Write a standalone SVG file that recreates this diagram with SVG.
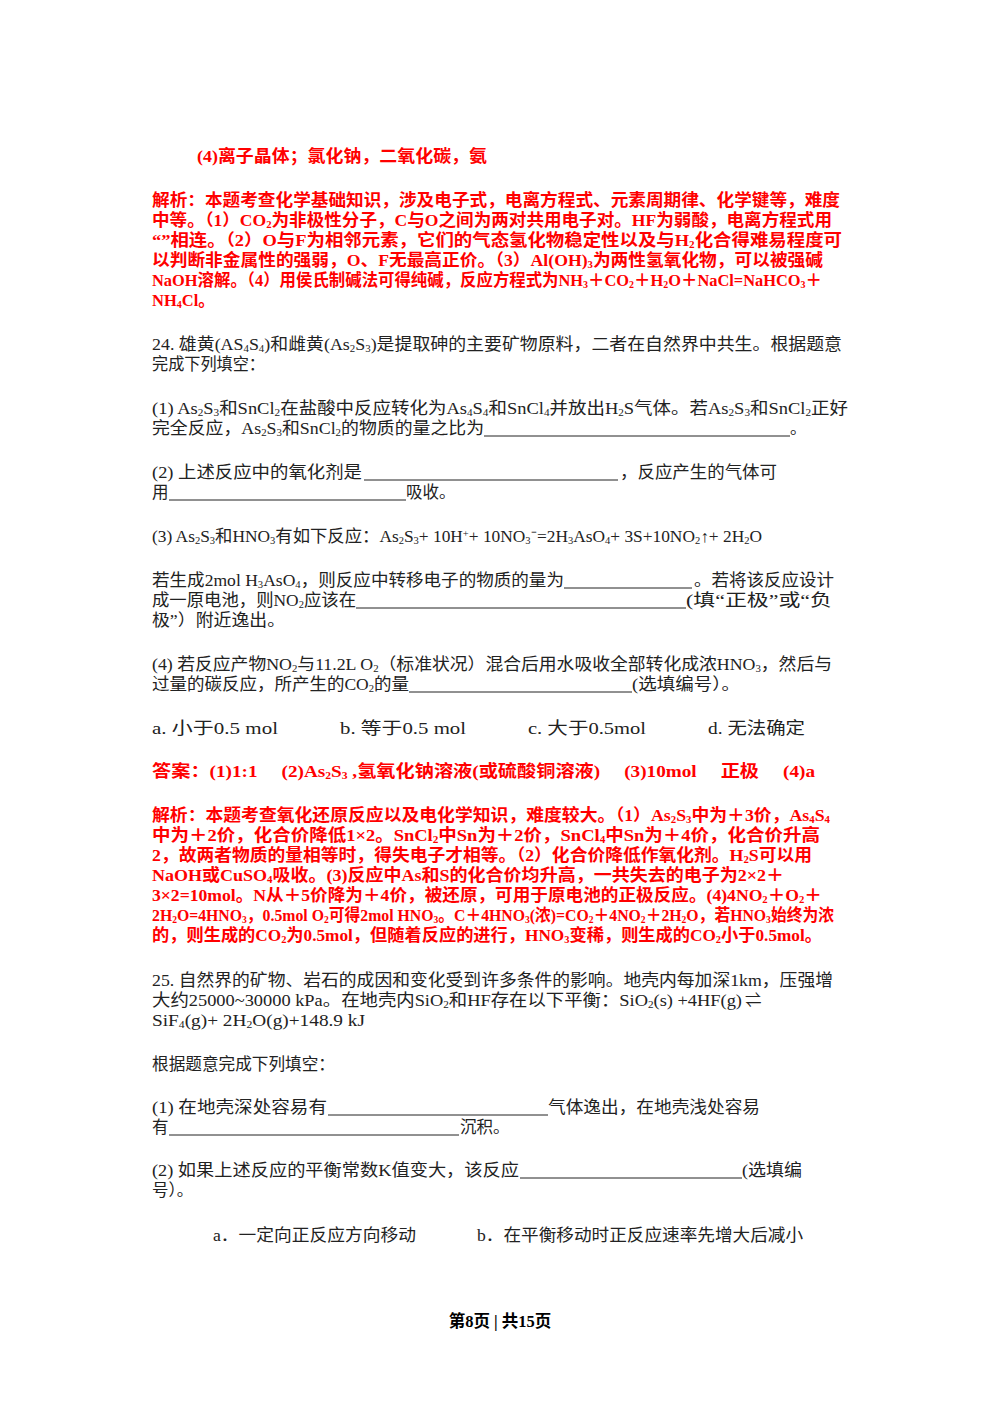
<svg xmlns="http://www.w3.org/2000/svg" width="1000" height="1414" viewBox="0 0 1000 1414">
<style>
text{font-family:"Liberation Serif","Noto Sans CJK SC",serif;font-size:16.5px;fill:#222}
.r{fill:#f00;font-weight:bold}
.s{font-size:10px;baseline-shift:-2px}
.p{font-size:10px;baseline-shift:super}
.u{stroke:#222;stroke-width:1}
</style>
<rect width="1000" height="1414" fill="#fff"/>
<text class="r" x="197" y="162" textLength="290" lengthAdjust="spacingAndGlyphs">(4)离子晶体；氯化钠，二氧化碳，氨</text>
<g class="r">
<text class="r" x="152" y="206" textLength="688" lengthAdjust="spacingAndGlyphs">解析：本题考查化学基础知识，涉及电子式，电离方程式、元素周期律、化学键等，难度</text>
<text class="r" x="152" y="226" textLength="680" lengthAdjust="spacingAndGlyphs">中等。（1）CO<tspan class="s">2</tspan>为非极性分子，C与O之间为两对共用电子对。HF为弱酸，电离方程式用</text>
<text class="r" x="152" y="246" textLength="690" lengthAdjust="spacingAndGlyphs">“”相连。（2）O与F为相邻元素，它们的气态氢化物稳定性以及与H<tspan class="s">2</tspan>化合得难易程度可</text>
<text class="r" x="152" y="266" textLength="671" lengthAdjust="spacingAndGlyphs">以判断非金属性的强弱，O、F无最高正价。（3）Al(OH)<tspan class="s">3</tspan>为两性氢氧化物，可以被强碱</text>
<text class="r" x="152" y="286" textLength="670" lengthAdjust="spacingAndGlyphs">NaOH溶解。（4）用侯氏制碱法可得纯碱，反应方程式为NH<tspan class="s">3</tspan>＋CO<tspan class="s">2</tspan>＋H<tspan class="s">2</tspan>O＋NaCl=NaHCO<tspan class="s">3</tspan>＋</text>
<text class="r" x="152" y="306">NH<tspan class="s">4</tspan>Cl。</text>
</g>
<text x="152" y="350" textLength="690" lengthAdjust="spacingAndGlyphs">24. 雄黄(AS<tspan class="s">4</tspan>S<tspan class="s">4</tspan>)和雌黄(As<tspan class="s">2</tspan>S<tspan class="s">3</tspan>)是提取砷的主要矿物原料，二者在自然界中共生。根据题意</text>
<text x="152" y="370" textLength="113" lengthAdjust="spacingAndGlyphs">完成下列填空：</text>
<text x="152" y="414" textLength="696" lengthAdjust="spacingAndGlyphs">(1) As<tspan class="s">2</tspan>S<tspan class="s">3</tspan>和SnCl<tspan class="s">2</tspan>在盐酸中反应转化为As<tspan class="s">4</tspan>S<tspan class="s">4</tspan>和SnCl<tspan class="s">4</tspan>并放出H<tspan class="s">2</tspan>S气体。若As<tspan class="s">2</tspan>S<tspan class="s">3</tspan>和SnCl<tspan class="s">2</tspan>正好</text>
<text x="152" y="434" textLength="332" lengthAdjust="spacingAndGlyphs">完全反应，As<tspan class="s">2</tspan>S<tspan class="s">3</tspan>和SnCl<tspan class="s">2</tspan>的物质的量之比为</text>
<line class="u" x1="484" y1="436" x2="790" y2="436"/><text x="790" y="434">。</text>
<text x="152" y="478" textLength="210" lengthAdjust="spacingAndGlyphs">(2) 上述反应中的氧化剂是</text>
<line class="u" x1="364" y1="480" x2="618" y2="480"/><text x="620" y="478" textLength="157" lengthAdjust="spacingAndGlyphs">，反应产生的气体可</text>
<text x="152" y="498">用</text><line class="u" x1="169" y1="500" x2="406" y2="500"/><text x="406" y="498">吸收。</text>
<text x="152" y="542" textLength="610" lengthAdjust="spacingAndGlyphs">(3)  As<tspan class="s">2</tspan>S<tspan class="s">3</tspan>和HNO<tspan class="s">3</tspan>有如下反应：As<tspan class="s">2</tspan>S<tspan class="s">3</tspan>+ 10H<tspan class="p">+</tspan>+ 10NO<tspan class="s">3</tspan>⁻=2H<tspan class="s">3</tspan>AsO<tspan class="s">4</tspan>+ 3S+10NO<tspan class="s">2</tspan>↑+ 2H<tspan class="s">2</tspan>O</text>
<text x="152" y="586" textLength="412" lengthAdjust="spacingAndGlyphs">若生成2mol H<tspan class="s">3</tspan>AsO<tspan class="s">4</tspan>，则反应中转移电子的物质的量为</text>
<line class="u" x1="564" y1="588" x2="692" y2="588"/><text x="694" y="586" textLength="140" lengthAdjust="spacingAndGlyphs">。若将该反应设计</text>
<text x="152" y="606" textLength="204" lengthAdjust="spacingAndGlyphs">成一原电池，则NO<tspan class="s">2</tspan>应该在</text>
<line class="u" x1="356" y1="608" x2="686" y2="608"/><text x="686" y="606" textLength="146" lengthAdjust="spacingAndGlyphs">(填“正极”或“负</text>
<text x="152" y="626" textLength="133" lengthAdjust="spacingAndGlyphs">极”）附近逸出。</text>
<text x="152" y="670" textLength="680" lengthAdjust="spacingAndGlyphs">(4) 若反应产物NO<tspan class="s">2</tspan>与11.2L O<tspan class="s">2</tspan>（标准状况）混合后用水吸收全部转化成浓HNO<tspan class="s">3</tspan>，然后与</text>
<text x="152" y="690" textLength="257" lengthAdjust="spacingAndGlyphs">过量的碳反应，所产生的CO<tspan class="s">2</tspan>的量</text>
<line class="u" x1="409" y1="692" x2="632" y2="692"/><text x="632" y="690" textLength="108" lengthAdjust="spacingAndGlyphs">(选填编号）。</text>
<text x="152" y="734" textLength="126" lengthAdjust="spacingAndGlyphs">a. 小于0.5 mol</text>
<text x="340" y="734" textLength="126" lengthAdjust="spacingAndGlyphs">b. 等于0.5 mol</text>
<text x="528" y="734" textLength="118" lengthAdjust="spacingAndGlyphs">c. 大于0.5mol</text>
<text x="708" y="734" textLength="97" lengthAdjust="spacingAndGlyphs">d. 无法确定</text>
<text class="r" x="152" y="777" textLength="663" lengthAdjust="spacingAndGlyphs">答案：(1)1:1　 (2)As<tspan class="s">2</tspan>S<tspan class="s">3</tspan> ,氢氧化钠溶液(或硫酸铜溶液)　 (3)10mol　 正极　 (4)a</text>
<text class="r" x="152" y="821" textLength="678" lengthAdjust="spacingAndGlyphs">解析：本题考查氧化还原反应以及电化学知识，难度较大。（1）As<tspan class="s">2</tspan>S<tspan class="s">3</tspan>中为＋3价，As<tspan class="s">4</tspan>S<tspan class="s">4</tspan></text>
<text class="r" x="152" y="841" textLength="668" lengthAdjust="spacingAndGlyphs">中为＋2价，化合价降低1×2。SnCl<tspan class="s">2</tspan>中Sn为＋2价，SnCl<tspan class="s">4</tspan>中Sn为＋4价，化合价升高</text>
<text class="r" x="152" y="861" textLength="660" lengthAdjust="spacingAndGlyphs">2，故两者物质的量相等时，得失电子才相等。（2）化合价降低作氧化剂。H<tspan class="s">2</tspan>S可以用</text>
<text class="r" x="152" y="881" textLength="632" lengthAdjust="spacingAndGlyphs">NaOH或CuSO<tspan class="s">4</tspan>吸收。(3)反应中As和S的化合价均升高，一共失去的电子为2×2＋</text>
<text class="r" x="152" y="901" textLength="670" lengthAdjust="spacingAndGlyphs">3×2=10mol。N从＋5价降为＋4价，被还原，可用于原电池的正极反应。(4)4NO<tspan class="s">2</tspan>＋O<tspan class="s">2</tspan>＋</text>
<text class="r" x="152" y="921" font-size="15.5" textLength="682" lengthAdjust="spacingAndGlyphs">2H<tspan class="s">2</tspan>O=4HNO<tspan class="s">3</tspan>，0.5mol O<tspan class="s">2</tspan>可得2mol HNO<tspan class="s">3</tspan>。C＋4HNO<tspan class="s">3</tspan>(浓)=CO<tspan class="s">2</tspan>＋4NO<tspan class="s">2</tspan>＋2H<tspan class="s">2</tspan>O，若HNO<tspan class="s">3</tspan>始终为浓</text>
<text class="r" x="152" y="941" textLength="670" lengthAdjust="spacingAndGlyphs">的，则生成的CO<tspan class="s">2</tspan>为0.5mol，但随着反应的进行，HNO<tspan class="s">3</tspan>变稀，则生成的CO<tspan class="s">2</tspan>小于0.5mol。</text>
<text x="152" y="986" textLength="681" lengthAdjust="spacingAndGlyphs">25. 自然界的矿物、岩石的成因和变化受到许多条件的影响。地壳内每加深1km，压强增</text>
<text x="152" y="1006" textLength="590" lengthAdjust="spacingAndGlyphs">大约25000~30000 kPa。在地壳内SiO<tspan class="s">2</tspan>和HF存在以下平衡：SiO<tspan class="s">2</tspan>(s) +4HF(g)</text>
<text x="745" y="1006" font-size="20">⇌</text>
<text x="152" y="1026" textLength="213" lengthAdjust="spacingAndGlyphs">SiF<tspan class="s">4</tspan>(g)+ 2H<tspan class="s">2</tspan>O(g)+148.9 kJ</text>
<text x="152" y="1070" textLength="183" lengthAdjust="spacingAndGlyphs">根据题意完成下列填空：</text>
<text x="152" y="1113" textLength="175" lengthAdjust="spacingAndGlyphs">(1) 在地壳深处容易有</text>
<line class="u" x1="328" y1="1115" x2="548" y2="1115"/><text x="548" y="1113" textLength="212" lengthAdjust="spacingAndGlyphs">气体逸出，在地壳浅处容易</text>
<text x="152" y="1133">有</text><line class="u" x1="169" y1="1135" x2="459" y2="1135"/><text x="460" y="1133">沉积。</text>
<text x="152" y="1176" textLength="367" lengthAdjust="spacingAndGlyphs">(2) 如果上述反应的平衡常数K值变大，该反应</text>
<line class="u" x1="520" y1="1178" x2="742" y2="1178"/><text x="742" y="1176" textLength="60" lengthAdjust="spacingAndGlyphs">(选填编</text>
<text x="152" y="1196">号）。</text>
<text x="213" y="1241" textLength="203" lengthAdjust="spacingAndGlyphs">a．一定向正反应方向移动</text>
<text x="477" y="1241" textLength="326" lengthAdjust="spacingAndGlyphs">b．在平衡移动时正反应速率先增大后减小</text>
<text x="500" y="1327" text-anchor="middle" style="font-weight:bold;fill:#000">第8页 | 共15页</text>
</svg>
